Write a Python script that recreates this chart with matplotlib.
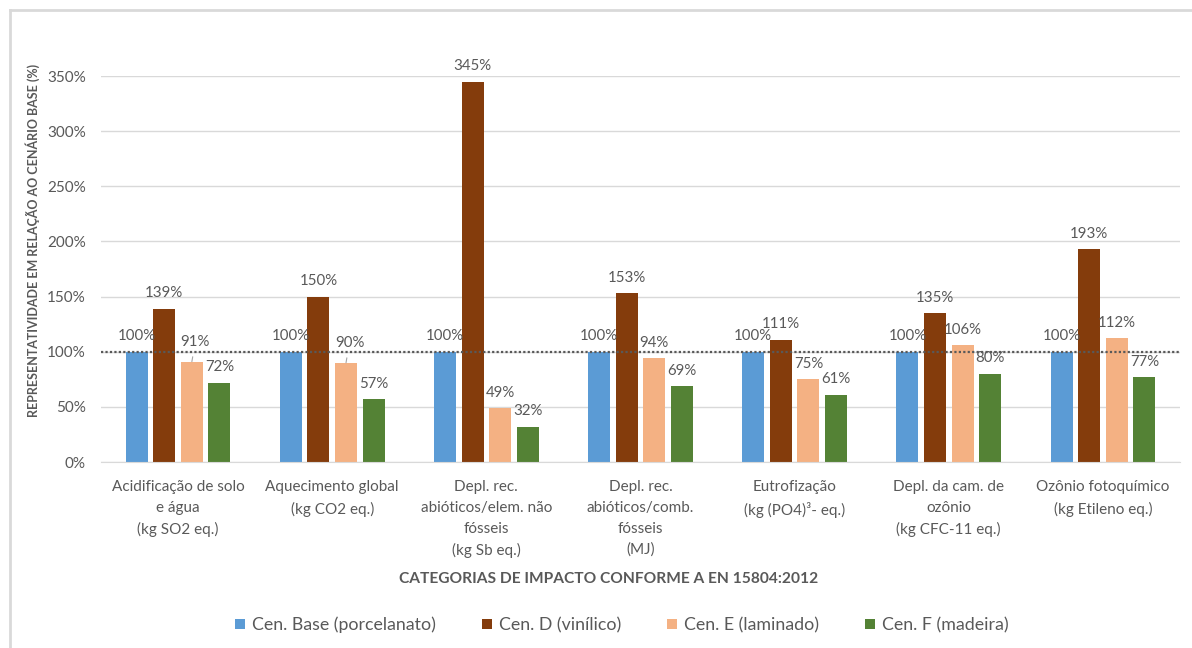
import matplotlib
matplotlib.use("Agg")
import matplotlib.pyplot as plt
from matplotlib.lines import Line2D
from matplotlib.patches import Patch
import numpy as np

plt.rcParams['font.family'] = ['Lato', 'DejaVu Sans']

categories = [
    "Acidificação de solo\ne água\n(kg SO2 eq.)",
    "Aquecimento global\n(kg CO2 eq.)",
    "Depl. rec.\nabióticos/elem. não\nfósseis\n(kg Sb eq.)",
    "Depl. rec.\nabióticos/comb.\nfósseis\n(MJ)",
    "Eutrofização\n(kg (PO4)³- eq.)",
    "Depl. da cam. de\nozônio\n(kg CFC-11 eq.)",
    "Ozônio fotoquímico\n(kg Etileno eq.)",
]
series_names = [
    "Cen. Base (porcelanato)",
    "Cen. D (vinílico)",
    "Cen. E (laminado)",
    "Cen. F (madeira)",
]
cen_base = [100, 100, 100, 100, 100, 100, 100]
cen_d = [139, 150, 345, 153, 111, 135, 193]
cen_e = [91, 90, 49, 94, 75, 106, 112]
cen_f = [72, 57, 32, 69, 61, 80, 77]
yticks = [0, 50, 100, 150, 200, 250, 300, 350]

colors = ["#5B9BD5", "#843C0C", "#F4B183", "#548235"]
text_gray = "#595959"
grid_gray = "#D9D9D9"

W, H = 1192, 648
fig = plt.figure(figsize=(W / 100, H / 100), dpi=100)
ax = fig.add_axes([101 / W, 1 - 462 / H, (1180 - 101) / W, (462 - 76) / H])

x = np.arange(len(categories))
bar_w = 0.143
step = 0.179
all_series = [cen_base, cen_d, cen_e, cen_f]

for i, (vals, col, name) in enumerate(zip(all_series, colors, series_names)):
    xs = x + (i - 1.5) * step
    ax.bar(xs, vals, width=bar_w, color=col, label=name, zorder=2)
    for xi, v in zip(xs, vals):
        if i == 2 and v in (91, 90):
            ax.annotate(f"{v}%", xy=(xi, v), xytext=(2.5, 14.5), textcoords="offset points",
                        ha="center", va="center", fontsize=10.8, color=text_gray,
                        arrowprops=dict(arrowstyle="-", color="#A6A6A6", lw=0.8,
                                        shrinkA=4, shrinkB=0))
        else:
            ax.annotate(f"{v}%", xy=(xi, v), xytext=(0, 11), textcoords="offset points",
                        ha="center", va="center", fontsize=10.8, color=text_gray, zorder=4)

# reference line at the base scenario
ax.axhline(100, color="#595959", linestyle=(0, (1, 1)), lw=1.6, zorder=3)

ax.set_xlim(-0.5, len(categories) - 0.5)
ax.set_ylim(0, 350)
ax.set_yticks(yticks)
ax.set_yticklabels([f"{v}%" for v in yticks])
ax.yaxis.grid(True, color=grid_gray, lw=1.0, zorder=0)
ax.set_axisbelow(True)
ax.set_xticks(x)
ax.set_xticklabels(categories, linespacing=1.62)
ax.tick_params(axis="both", length=0, labelsize=11, colors=text_gray)
ax.tick_params(axis="y", pad=11)
ax.tick_params(axis="x", pad=13)
for s in ["top", "right", "left"]:
    ax.spines[s].set_visible(False)
ax.spines["bottom"].set_color(grid_gray)

fig.text(33 / W, 1 - 240 / H, "REPRESENTATIVIDADE EM RELAÇÃO AO CENÁRIO BASE (%)",
         rotation=90, ha="center", va="center", fontsize=9.0, fontweight="bold",
         color=text_gray)
fig.text(609 / W, 1 - 579 / H, "CATEGORIAS DE IMPACTO CONFORME A EN 15804:2012",
         ha="center", va="center", fontsize=11.2, fontweight="bold", color=text_gray)

handles = [Patch(facecolor=c, edgecolor="none") for c in colors]
fig.legend(handles, series_names, loc="center", bbox_to_anchor=(622 / W, 1 - 625 / H),
           ncol=4, frameon=False, fontsize=12.8, labelcolor=text_gray,
           handlelength=0.55, handleheight=0.55, handletextpad=0.4, columnspacing=2.6)

# chart frame
fig.add_artist(Line2D([10 / W, 10 / W], [0, 1 - 10 / H], color=grid_gray, lw=2.0,
                      transform=fig.transFigure))
fig.add_artist(Line2D([10 / W, 1], [1 - 10 / H, 1 - 10 / H], color=grid_gray, lw=2.0,
                      transform=fig.transFigure))

fig.savefig("out.png", dpi=100)
